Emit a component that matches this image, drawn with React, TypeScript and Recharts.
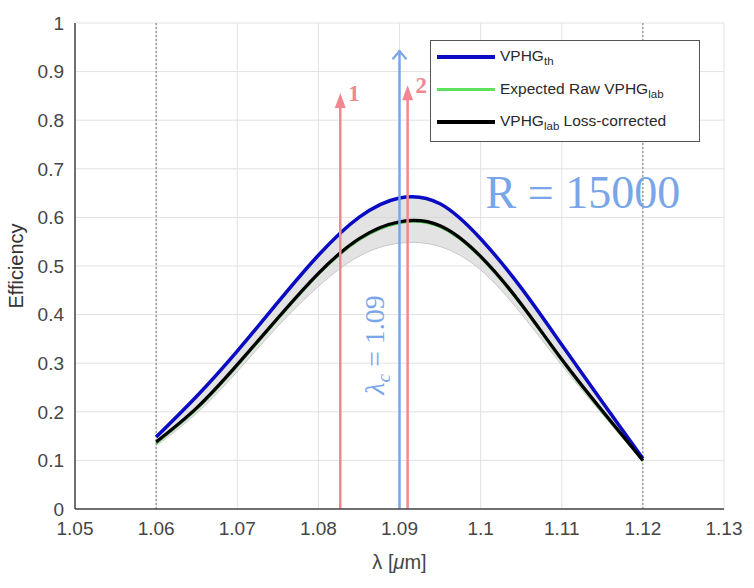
import React from "react";
import {
  ComposedChart,
  Line,
  Area,
  XAxis,
  YAxis,
  CartesianGrid,
  ReferenceLine,
  ReferenceDot,
  Label,
} from "recharts";

// wavelength samples [um]
const LAMBDA = [1.06, 1.065, 1.07, 1.075, 1.08, 1.085, 1.09, 1.095, 1.1, 1.105, 1.11, 1.115, 1.12];
const VPHG_TH = [0.148, 0.232, 0.325, 0.425, 0.522, 0.6, 0.64, 0.628, 0.556, 0.455, 0.338, 0.22, 0.104];
const RAW_LAB = [0.135, 0.205, 0.294, 0.39, 0.482, 0.553, 0.588, 0.58, 0.517, 0.419, 0.305, 0.199, 0.099];
const CORRECTED = [0.138, 0.208, 0.297, 0.393, 0.485, 0.556, 0.591, 0.583, 0.52, 0.422, 0.308, 0.202, 0.1];
const BAND_LOW = [0.13, 0.197, 0.283, 0.376, 0.458, 0.52, 0.547, 0.54, 0.492, 0.402, 0.296, 0.195, 0.097];

const X_TICKS = [1.05, 1.06, 1.07, 1.08, 1.09, 1.1, 1.11, 1.12, 1.13];
const Y_TICKS = [0, 0.1, 0.2, 0.3, 0.4, 0.5, 0.6, 0.7, 0.8, 0.9, 1];

const data = LAMBDA.map((x, i) => ({
  x,
  th: VPHG_TH[i],
  raw: RAW_LAB[i],
  corr: CORRECTED[i],
  band: [BAND_LOW[i], VPHG_TH[i]],
}));

const RED = "#f08890";
const LIGHT_BLUE = "#79a6e8";
const AXIS_GRAY = "#454545";
const FONT = "'Liberation Sans', Arial, sans-serif";
const SERIF = "'Liberation Serif', 'Times New Roman', serif";

function redArrow(label: string) {
  return (props: any) => {
    const { x1, y1, y2 } = props;
    const top = Math.min(y1, y2);
    const bottom = Math.max(y1, y2);
    return (
      <g>
        <line x1={x1} x2={x1} y1={bottom} y2={top + 10} stroke={RED} strokeWidth={2.5} />
        <polygon points={`${x1 - 5.5},${top + 15} ${x1 + 5.5},${top + 15} ${x1},${top}`} fill={RED} />
        <text x={x1 + 8} y={top + 8} fill={RED} fontFamily={SERIF} fontWeight="bold" fontSize={23}>
          {label}
        </text>
      </g>
    );
  };
}

function blueArrow(props: any) {
  const { x1, y1, y2 } = props;
  const top = Math.min(y1, y2);
  const bottom = Math.max(y1, y2);
  return (
    <g>
      <line x1={x1} x2={x1} y1={bottom} y2={top} stroke={LIGHT_BLUE} strokeWidth={2.5} />
      <polyline
        points={`${x1 - 7},${top + 9} ${x1},${top + 1} ${x1 + 7},${top + 9}`}
        fill="none"
        stroke={LIGHT_BLUE}
        strokeWidth={2.2}
      />
      <text
        transform={`translate(${x1 - 16},${345}) rotate(-90)`}
        textAnchor="middle"
        fill={LIGHT_BLUE}
        fontFamily={SERIF}
        fontSize={28}
      >
        <tspan fontStyle="italic">λ</tspan>
        <tspan fontStyle="italic" fontSize={19} dy={6}>c</tspan>
        <tspan dy={-6}> = 1.09</tspan>
      </text>
    </g>
  );
}

function resolutionText(props: any) {
  const { cx, cy } = props;
  return (
    <text x={cx} y={cy} textAnchor="middle" fill={LIGHT_BLUE} fontFamily={SERIF} fontSize={46}>
      R = 15000
    </text>
  );
}

function xAxisTitle(props: any) {
  const { viewBox } = props;
  const cx = viewBox.x + viewBox.width / 2;
  return (
    <text x={cx} y={569} textAnchor="middle" fill={AXIS_GRAY} fontFamily={FONT} fontSize={20}>
      λ [<tspan fontStyle="italic">μ</tspan>m]
    </text>
  );
}

function LegendBox() {
  const rows = [
    { color: "#0b0bc4", h: 3.5, main: "VPHG", sub: "th", rest: "" },
    { color: "#5ee25e", h: 2.5, main: "Expected Raw VPHG", sub: "lab", rest: "" },
    { color: "#000000", h: 3.5, main: "VPHG", sub: "lab", rest: " Loss-corrected" },
  ];
  return (
    <div
      style={{
        position: "absolute",
        left: 430,
        top: 40,
        width: 270,
        height: 102,
        background: "#fff",
        border: "1px solid #555",
        boxSizing: "border-box",
        fontFamily: FONT,
        fontSize: 15.5,
        color: "#2a2a2a",
      }}
    >
      {rows.map((r, i) => (
        <div
          key={i}
          style={{
            position: "absolute",
            left: 6,
            top: 6 + i * 32.5,
            display: "flex",
            alignItems: "center",
            whiteSpace: "nowrap",
          }}
        >
          <span style={{ display: "inline-block", width: 58, height: r.h, background: r.color, marginRight: 5 }} />
          <span>
            {r.main}
            <sub style={{ fontSize: 11.5 }}>{r.sub}</sub>
            {r.rest}
          </span>
        </div>
      ))}
    </div>
  );
}

export default function App() {
  return (
    <div style={{ position: "absolute", left: 0, top: 0, width: 754, height: 588, background: "#fff" }}>
      <ComposedChart width={754} height={588} data={data} margin={{ top: 23, right: 30, left: 0, bottom: 0 }}>
        <CartesianGrid stroke="#e2e2e2" strokeWidth={1} />
        <XAxis
          dataKey="x"
          type="number"
          domain={[1.05, 1.13]}
          ticks={X_TICKS}
          height={79}
          tickLine={false}
          tickMargin={7}
          stroke={AXIS_GRAY}
          strokeWidth={1.5}
          tick={{ fill: AXIS_GRAY, fontSize: 19, fontFamily: FONT }}
          tickFormatter={(v: number) => String(Number(v.toFixed(2)))}
        >
          <Label content={xAxisTitle} />
        </XAxis>
        <YAxis
          type="number"
          domain={[0, 1]}
          ticks={Y_TICKS}
          width={75}
          tickLine={false}
          tickMargin={5}
          stroke={AXIS_GRAY}
          strokeWidth={1.5}
          tick={{ fill: AXIS_GRAY, fontSize: 19, fontFamily: FONT }}
          tickFormatter={(v: number) => String(Number(v.toFixed(1)))}
        >
          <Label
            angle={-90}
            position="insideLeft"
            offset={16}
            style={{ textAnchor: "middle" }}
            fill="#333"
            fontSize={20}
            fontFamily={FONT}
            value="Efficiency"
          />
        </YAxis>
        <ReferenceLine x={1.06} stroke="#777" strokeDasharray="2 2" strokeWidth={1} />
        <ReferenceLine x={1.12} stroke="#777" strokeDasharray="2 2" strokeWidth={1} />
        <Area
          dataKey="band"
          type="natural"
          fill="#d0d0d0"
          fillOpacity={0.6}
          stroke="#c8c8c8"
          strokeWidth={1}
          isAnimationActive={false}
        />
        <Line dataKey="th" type="natural" stroke="#0b0bc4" strokeWidth={3.5} dot={false} isAnimationActive={false} />
        <Line dataKey="raw" type="natural" stroke="#3fbf3f" strokeWidth={2} dot={false} isAnimationActive={false} />
        <Line dataKey="corr" type="natural" stroke="#000" strokeWidth={3.2} dot={false} isAnimationActive={false} />
        <ReferenceLine segment={[{ x: 1.0827, y: 0 }, { x: 1.0827, y: 0.856 }]} shape={redArrow("1")} />
        <ReferenceLine segment={[{ x: 1.09, y: 0 }, { x: 1.09, y: 0.944 }]} shape={blueArrow} />
        <ReferenceLine segment={[{ x: 1.091, y: 0 }, { x: 1.091, y: 0.872 }]} shape={redArrow("2")} />
        <ReferenceDot x={1.1126} y={0.619} r={0} shape={resolutionText} />
      </ComposedChart>
      <LegendBox />
    </div>
  );
}
